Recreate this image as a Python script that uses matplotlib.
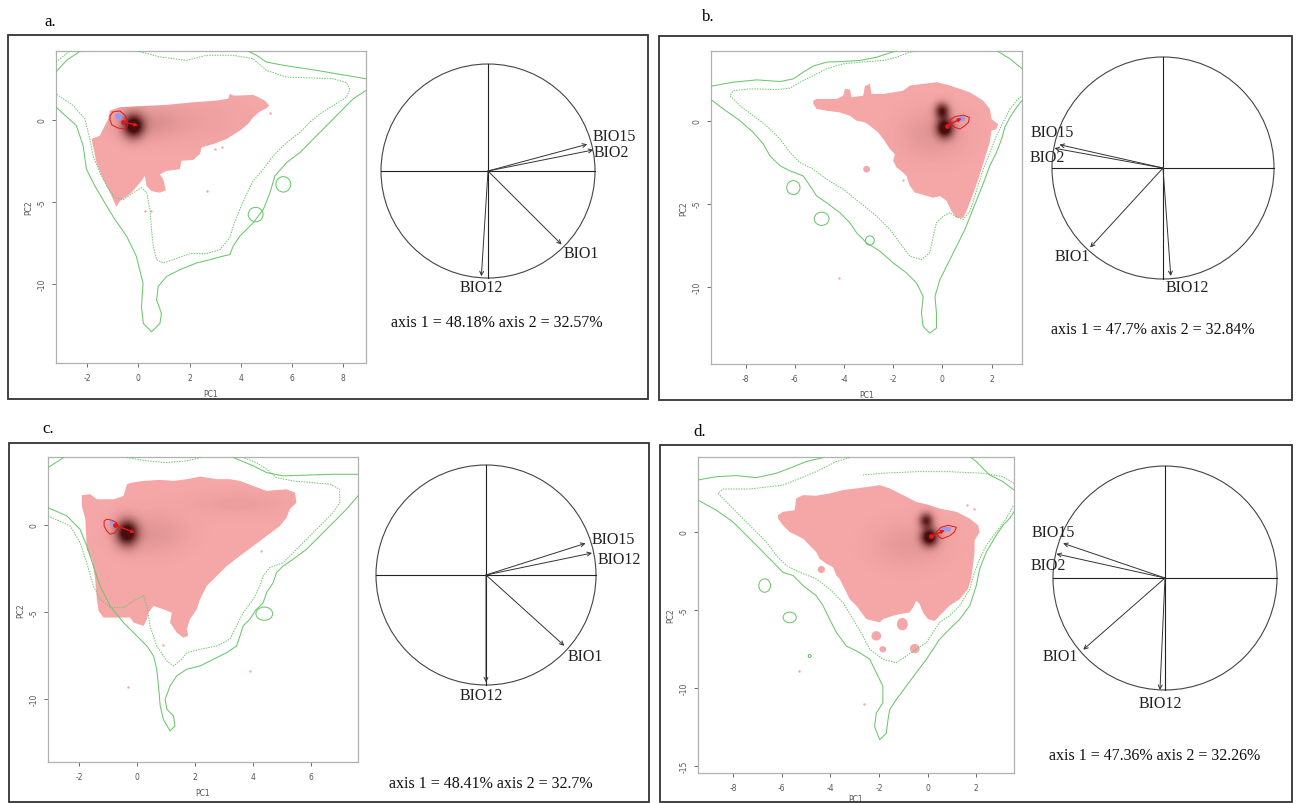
import numpy as np
import matplotlib.pyplot as plt
from matplotlib.patches import Polygon, Ellipse, Rectangle, Circle

plt.rcParams['axes.unicode_minus'] = False

W, H = 1296, 804
PINK = '#f5a6a6'
GREEN = '#6cc66c'
DARK = (0.22, 0.0, 0.0)

# ---------------- panel a ----------------
a_xlim = (-3.22, 8.89)
a_ylim = (-14.8, 4.2)
a_xticks = [-2, 0, 2, 4, 6, 8]
a_yticks = [0, -5, -10]
a_niche = [(-1.83, -1.16), (-1.64, -2.59), (-1.38, -3.61), (-1.11, -4.43), (-0.86, -5.29),
           (-0.72, -4.94), (-0.27, -4.43), (0.12, -3.71), (0.25, -3.41), (0.32, -4.02),
           (0.51, -4.33), (0.84, -4.43), (1.07, -4.27), (0.97, -3.61), (0.84, -3.31),
           (1.10, -3.10), (1.62, -3.0), (1.68, -2.49), (2.14, -2.43), (2.40, -2.08),
           (2.47, -1.67), (2.92, -1.47), (3.44, -1.16), (3.96, -0.65), (4.29, -0.24),
           (4.48, 0.16), (4.74, 0.51), (5.0, 0.71), (5.11, 0.88), (4.94, 1.18),
           (4.68, 1.39), (4.48, 1.53), (3.96, 1.49), (3.70, 1.49), (3.57, 1.59),
           (3.51, 1.29), (3.05, 1.18), (2.14, 1.08), (1.10, 0.92), (0.05, 0.84),
           (-0.72, 0.78), (-1.11, 0.57), (-1.18, 0.06), (-1.51, -0.96)]
a_specks = [(2.99, -1.78), (3.25, -1.67), (2.66, -4.33), (0.25, -5.55), (0.51, -5.55), (5.14, 0.41)]
a_cores = [(-0.2, -0.35, 0.28, 0.5, 1.1), (0.4, -0.2, 0.8, 0.6, 0.12), (2.0, 0.0, 1.5, 1.0, 0.04)]
a_solid = [
    [(-3.22, 0.78), (-2.42, -0.35), (-2.16, -1.57), (-2.03, -3.0), (-1.70, -4.02), (-1.24, -5.24),
     (-0.92, -6.06), (-0.46, -7.08), (-0.08, -8.31), (0.18, -9.94), (0.12, -11.37), (0.19, -12.39),
     (0.51, -12.90), (0.84, -12.39), (0.90, -11.78), (0.71, -10.96), (0.77, -10.14), (1.10, -9.53),
     (1.62, -9.12), (2.27, -8.71), (2.79, -8.51), (3.25, -8.31), (3.57, -8.20), (3.70, -7.69),
     (3.96, -7.08), (4.48, -6.27), (4.88, -5.45), (5.14, -4.43), (5.33, -3.41), (5.79, -2.59),
     (6.31, -1.98), (6.83, -1.16), (7.35, -0.35), (7.87, 0.47), (8.39, 1.29), (8.89, 1.80)],
    [(4.22, 4.24), (4.61, 3.94), (5.0, 3.53), (5.66, 3.33), (6.96, 3.02), (8.13, 2.71), (8.89, 2.51)],
    [(-3.22, 2.92), (-2.81, 3.63), (-2.22, 4.24)],
]
a_dotted = [
    [(-0.14, 4.24), (0.84, 3.84), (1.88, 3.63), (2.66, 3.94), (3.70, 3.94), (4.48, 3.73), (5.0, 3.02),
     (5.79, 2.61), (7.61, 2.51), (8.13, 2.27), (8.26, 1.86), (8.13, 1.39), (7.61, 0.88), (7.09, 0.37),
     (6.70, -0.14), (6.31, -0.76), (5.79, -1.37), (5.27, -2.18), (4.88, -3.0), (4.48, -3.71),
     (4.22, -4.53), (3.96, -5.45), (3.70, -6.47), (3.57, -7.18), (3.18, -7.90), (2.66, -8.14),
     (2.01, -8.14), (1.36, -8.51), (0.97, -8.71), (0.71, -8.51), (0.58, -7.69), (0.51, -6.67),
     (0.45, -5.45), (0.32, -4.43), (0.12, -4.12), (-0.20, -4.43), (-0.59, -4.84), (-0.92, -4.73),
     (-1.24, -4.02), (-1.51, -3.20), (-1.77, -2.18), (-1.90, -1.16), (-2.09, 0.06), (-2.55, 0.88),
     (-3.22, 1.59)],
    [(-3.22, 3.53), (-2.68, 4.2)],
]
a_rings = [(5.66, -3.92, 0.29, 0.47), (4.58, -5.76, 0.29, 0.44)]
a_native = [(-1.11, 0.24), (-1.0, 0.49), (-0.72, 0.55), (-0.53, 0.30), (-0.45, 0.0), (-0.41, -0.30),
            (-0.53, -0.55), (-0.80, -0.49), (-1.04, -0.30), (-1.11, 0.0)]
a_core_fill = [(-0.92, 0.37), (-0.72, 0.43), (-0.61, 0.24), (-0.69, 0.0), (-0.88, 0.06)]
a_shift = [(-0.59, -0.10), (-0.01, -0.35)]
a_vars = ['BIO15', 'BIO2', 'BIO1', 'BIO12']
a_vx = [0.928, 0.984, 0.688, -0.062]
a_vy = [0.25, 0.197, -0.687, -0.984]
a_inertia = (48.18, 32.57)

# ---------------- panel b ----------------
b_xlim = (-9.41, 3.24)
b_ylim = (-14.66, 4.2)
b_xticks = [-8, -6, -4, -2, 0, 2]
b_yticks = [0, -5, -10]
b_niche = [(-5.25, 1.21), (-5.11, 1.31), (-4.30, 1.31), (-4.03, 1.51), (-3.96, 1.92), (-3.76, 1.88),
           (-3.69, 1.41), (-3.22, 1.51), (-3.15, 2.08), (-2.95, 2.22), (-2.88, 1.61), (-2.40, 1.61),
           (-1.59, 1.81), (-1.32, 2.12), (-0.77, 2.22), (-0.23, 2.32), (0.31, 2.12), (1.12, 1.71),
           (1.66, 1.21), (1.93, 0.71), (2.0, 0.10), (2.27, -0.20), (2.20, -0.50), (2.0, -0.60),
           (1.93, -1.31), (1.80, -1.92), (1.59, -2.92), (1.46, -3.53), (1.32, -4.13), (1.12, -4.94),
           (0.98, -5.44), (0.85, -5.85), (0.58, -5.85), (0.37, -5.44), (0.18, -4.84), (-0.10, -4.54),
           (-0.37, -4.64), (-0.85, -4.44), (-1.12, -4.33), (-1.32, -3.93), (-1.46, -3.33),
           (-1.59, -3.13), (-1.86, -2.82), (-2.0, -2.42), (-1.93, -2.02), (-2.13, -1.71),
           (-2.40, -1.11), (-2.61, -0.71), (-2.95, -0.30), (-3.15, -0.10), (-3.49, 0.0),
           (-3.76, 0.30), (-4.17, 0.50), (-4.71, 0.60), (-5.11, 0.71), (-5.25, 1.01)]
b_blobs = [(-3.08, -2.92, 0.28, 0.40)]
b_specks = [(-1.6, -3.6), (-4.2, -9.5), (-2.0, 1.0)]
b_cores = [(0.11, -0.44, 0.24, 0.4, 1.1), (0.0, 0.6, 0.2, 0.34, 0.85), (-0.4, -0.8, 0.9, 1.0, 0.10)]
b_solid = [
    [(-9.41, 2.08), (-8.50, 2.32), (-7.55, 2.46), (-6.60, 2.36), (-6.06, 2.52), (-5.66, 2.92),
     (-5.25, 3.29), (-4.71, 3.53), (-4.03, 3.57), (-3.35, 3.63), (-2.67, 3.83), (-2.13, 4.09),
     (-1.79, 4.23)],
    [(-9.41, 1.27), (-8.91, 0.71), (-8.23, 0.0), (-7.69, -0.71), (-7.28, -1.41), (-7.01, -2.12),
     (-6.60, -2.72), (-6.20, -3.02), (-5.66, -3.33), (-5.38, -3.93), (-5.11, -4.54), (-4.71, -4.94),
     (-4.17, -5.54), (-3.76, -6.15), (-3.49, -6.75), (-3.08, -7.36), (-2.54, -7.86), (-2.0, -8.57),
     (-1.46, -9.17), (-1.05, -9.78), (-0.78, -10.58), (-0.85, -11.59), (-0.78, -12.40),
     (-0.51, -12.80), (-0.24, -12.50), (-0.24, -11.59), (-0.30, -10.58), (-0.10, -9.58),
     (0.24, -8.57), (0.58, -7.56), (0.92, -6.55), (1.19, -5.54), (1.46, -4.54), (1.73, -3.53),
     (1.93, -2.72), (2.20, -1.92), (2.41, -1.11), (2.54, -0.40), (2.75, 0.20), (3.02, 0.81),
     (3.24, 1.21)],
    [(2.20, 4.23), (2.75, 3.73), (3.24, 3.13)],
]
b_dotted = [
    [(-1.05, 4.23), (-1.32, 4.13), (-1.86, 3.83), (-2.40, 3.63), (-3.35, 3.53), (-4.03, 3.43),
     (-4.71, 3.13), (-5.38, 2.62), (-5.79, 2.32), (-6.20, 1.96), (-6.74, 1.88), (-7.82, 1.92),
     (-8.50, 1.81), (-8.64, 1.51), (-8.23, 0.91), (-7.69, 0.30), (-7.15, -0.30), (-6.60, -1.11),
     (-6.20, -1.92), (-5.79, -2.52), (-5.25, -2.92), (-4.71, -3.53), (-4.03, -4.13), (-3.35, -4.94),
     (-2.67, -5.75), (-2.13, -6.55), (-1.73, -7.36), (-1.32, -8.17), (-0.85, -8.37), (-0.51, -7.96),
     (-0.37, -6.96), (-0.24, -6.15), (0.04, -5.75), (0.31, -5.54), (0.51, -5.75), (0.85, -5.95),
     (1.12, -5.44), (1.32, -4.54), (1.53, -3.53), (1.66, -2.92), (1.93, -1.92), (2.20, -0.91),
     (2.47, -0.10), (2.75, 0.71), (3.02, 1.21), (3.24, 1.51)],
]
b_rings = [(-6.06, -4.03, 0.27, 0.42), (-4.91, -5.91, 0.30, 0.40), (-2.95, -7.22, 0.18, 0.28)]
b_native = [(0.31, 0.06), (0.51, 0.24), (0.85, 0.34), (1.10, 0.20), (1.06, -0.10), (0.92, -0.30),
            (0.71, -0.50), (0.51, -0.40), (0.37, -0.20)]
b_core_fill = [(0.58, 0.14), (0.71, 0.26), (0.92, 0.26), (0.92, 0.0), (0.64, -0.04)]
b_shift = [(0.18, -0.30), (0.78, 0.14)]
b_vars = ['BIO15', 'BIO2', 'BIO1', 'BIO12']
b_vx = [-0.933, -0.978, -0.656, 0.07]
b_vy = [0.21, 0.178, -0.716, -0.973]
b_inertia = (47.7, 32.84)

# ---------------- panel c ----------------
c_xlim = (-3.08, 7.64)
c_ylim = (-13.59, 3.87)
c_xticks = [-2, 0, 2, 4, 6]
c_yticks = [0, -5, -10]
c_niche = [(-1.91, 1.68), (-1.62, 1.74), (-1.39, 1.45), (-0.81, 1.45), (-0.47, 1.64), (-0.35, 2.31),
           (-0.18, 2.40), (0.22, 2.50), (0.80, 2.56), (1.26, 2.50), (1.72, 2.60), (2.18, 2.75),
           (2.75, 2.60), (3.21, 2.60), (3.56, 2.50), (4.02, 2.21), (4.48, 1.93), (5.17, 2.02),
           (5.46, 1.83), (5.51, 1.26), (5.28, 0.88), (5.17, 0.40), (4.94, -0.08), (4.48, -0.65),
           (4.02, -1.22), (3.56, -1.79), (3.10, -2.37), (2.64, -3.13), (2.41, -3.51), (2.18, -4.27),
           (2.06, -4.85), (1.83, -5.42), (1.72, -5.99), (1.77, -6.37), (1.60, -6.47), (1.37, -6.18),
           (1.14, -5.61), (1.20, -5.04), (0.91, -4.85), (0.57, -4.66), (0.39, -5.04), (0.34, -5.42),
           (0.22, -5.80), (-0.12, -5.61), (-0.24, -5.32), (-0.70, -5.32), (-1.16, -5.32),
           (-1.33, -4.94), (-1.39, -4.27), (-1.45, -3.13), (-1.56, -1.98), (-1.74, -1.41),
           (-1.76, -0.65), (-1.79, 0.31), (-1.91, 1.07)]
c_specks = [(4.3, -1.5), (3.9, -8.4), (-0.3, -9.3), (0.9, -6.9)]
c_cores = [(-0.35, -0.46, 0.26, 0.5, 1.1), (0.5, -0.5, 0.8, 0.8, 0.10), (3.5, 1.2, 1.2, 0.5, 0.05)]
c_solid = [
    [(-3.08, 0.97), (-2.43, 0.50), (-1.97, -0.27), (-1.74, -1.22), (-1.51, -2.37), (-1.28, -3.51),
     (-0.93, -4.66), (-0.47, -5.61), (-0.01, -6.37), (0.34, -6.95), (0.57, -7.52), (0.68, -8.28),
     (0.74, -9.24), (0.80, -10.38), (0.91, -11.15), (1.14, -11.81), (1.31, -11.53), (1.26, -10.95),
     (1.03, -10.57), (0.97, -10.0), (1.14, -9.24), (1.37, -8.66), (1.72, -8.28), (2.18, -8.09),
     (2.64, -7.71), (3.10, -7.33), (3.44, -6.95), (3.56, -6.37), (3.67, -5.80), (3.90, -5.42),
     (4.10, -4.90), (4.36, -4.47), (4.48, -3.89), (4.71, -3.32), (4.82, -2.75), (5.05, -2.37),
     (5.40, -1.98), (5.86, -1.41), (6.32, -0.65), (6.78, 0.11), (7.24, 0.88), (7.64, 1.64)],
    [(-3.08, 3.26), (-2.54, 3.84)],
    [(3.33, 3.84), (4.02, 3.36), (4.48, 2.98), (5.05, 2.79), (6.78, 2.88), (7.64, 2.88)],
]
c_dotted = [
    [(-3.08, 0.50), (-2.31, -0.08), (-1.97, -1.03), (-1.74, -2.18), (-1.51, -3.51), (-1.28, -4.27),
     (-0.93, -4.75), (-0.47, -4.75), (-0.12, -4.37), (0.22, -4.08), (0.34, -4.66), (0.45, -5.80),
     (0.68, -6.95), (1.03, -7.81), (1.26, -8.09), (1.54, -7.71), (1.72, -7.33), (2.18, -7.14),
     (2.75, -6.95), (3.21, -6.56), (3.44, -5.80), (3.67, -5.04), (4.02, -4.27), (4.25, -3.51),
     (4.36, -2.94), (4.59, -2.46), (5.05, -2.18), (5.40, -1.60), (5.86, -0.84), (6.32, -0.08),
     (6.78, 0.69), (7.01, 1.26), (7.01, 2.02), (6.67, 2.31), (6.09, 2.40), (5.40, 2.50),
     (4.82, 2.69), (4.48, 3.17), (4.13, 3.55), (3.67, 3.84)],
    [(-0.35, 3.84), (0.34, 3.65), (1.03, 3.55), (1.72, 3.65), (2.2, 3.84)],
]
c_rings = [(4.4, -5.1, 0.29, 0.38)]
c_native = [(-1.14, 0.21), (-1.05, 0.31), (-0.87, 0.25), (-0.70, 0.11), (-0.64, -0.17), (-0.76, -0.46),
            (-0.93, -0.55), (-1.05, -0.36), (-1.14, -0.08)]
c_core_fill = [(-0.93, 0.21), (-0.78, 0.19), (-0.72, 0.02), (-0.86, -0.08), (-0.95, 0.05)]
c_shift = [(-0.76, -0.04), (-0.07, -0.46)]
c_vars = ['BIO15', 'BIO12', 'BIO1', 'BIO12']
c_vx = [0.905, 0.964, 0.712, 0.0]
c_vy = [0.288, 0.2, -0.643, -0.976]
c_inertia = (48.41, 32.7)

# ---------------- panel d ----------------
d_xlim = (-9.44, 3.55)
d_ylim = (-15.43, 4.8)
d_xticks = [-8, -6, -4, -2, 0, 2]
d_yticks = [0, -5, -10, -15]
d_niche = [(-6.15, 1.07), (-5.95, 1.29), (-5.47, 1.39), (-5.40, 2.15), (-5.12, 2.36), (-4.58, 2.32),
           (-4.03, 2.47), (-3.48, 2.68), (-2.93, 2.79), (-2.38, 2.90), (-1.97, 3.0), (-1.56, 2.79),
           (-1.01, 2.36), (-0.47, 1.93), (0.08, 1.72), (0.49, 1.50), (1.18, 1.29), (1.73, 0.86),
           (2.07, 0.43), (2.14, 0.0), (1.93, -0.54), (1.93, -1.29), (1.86, -2.15), (1.79, -3.0),
           (1.66, -3.65), (1.32, -4.29), (0.90, -4.72), (0.49, -5.36), (0.29, -5.69), (0.01, -5.58),
           (-0.19, -5.15), (-0.33, -4.61), (-0.47, -4.40), (-0.60, -4.83), (-0.74, -5.15),
           (-1.15, -5.26), (-1.42, -5.36), (-1.84, -5.58), (-1.97, -5.79), (-2.52, -5.58),
           (-2.93, -4.72), (-3.21, -4.29), (-3.34, -3.86), (-3.48, -3.43), (-3.62, -3.0),
           (-3.75, -2.79), (-3.89, -2.25), (-4.16, -2.04), (-4.44, -1.72), (-4.58, -1.29),
           (-4.85, -0.86), (-5.12, -0.43), (-5.67, 0.0), (-5.95, 0.43), (-6.15, 0.86)]
d_blobs = [(-4.37, -2.40, 0.30, 0.45), (-2.11, -6.65, 0.40, 0.60), (-1.84, -7.51, 0.28, 0.40),
           (-1.04, -5.90, 0.45, 0.80), (-0.53, -7.47, 0.40, 0.60)]
d_specks = [(1.6, 1.7), (1.9, 1.5), (-5.3, -8.9), (-2.6, -11.0), (-1.5, 2.6)]
d_cores = [(0.08, -0.32, 0.24, 0.4, 1.1), (-0.05, 0.75, 0.2, 0.34, 0.8), (-0.8, -0.8, 1.0, 1.0, 0.08)]
d_solid = [
    [(-9.44, 3.33), (-8.68, 3.54), (-7.86, 3.61), (-7.04, 3.48), (-6.22, 3.76), (-5.67, 4.08),
     (-4.99, 4.51), (-4.30, 4.76)],
    [(-9.44, 2.04), (-8.68, 1.39), (-8.0, 0.64), (-7.45, -0.21), (-6.90, -1.07), (-6.49, -1.72),
     (-6.22, -2.15), (-5.95, -2.58), (-5.53, -2.79), (-5.12, -3.43), (-4.58, -4.08), (-4.30, -4.72),
     (-4.03, -5.58), (-3.75, -6.44), (-3.34, -7.30), (-2.79, -7.73), (-2.38, -8.15), (-2.11, -9.01),
     (-1.84, -9.87), (-1.84, -10.94), (-2.11, -11.59), (-2.18, -12.45), (-1.97, -13.30),
     (-1.70, -12.88), (-1.63, -12.02), (-1.56, -11.37), (-1.29, -10.73), (-0.88, -9.87),
     (-0.47, -9.01), (-0.05, -8.15), (0.22, -7.51), (0.49, -6.87), (0.90, -6.22), (1.32, -5.58),
     (1.73, -4.72), (2.0, -3.43), (2.14, -2.36), (2.41, -1.29), (2.82, -0.21), (3.10, 0.43),
     (3.37, 0.86), (3.55, 1.29)],
    [(1.73, 4.83), (2.0, 4.51), (2.27, 4.08), (2.55, 3.65), (3.10, 3.22), (3.55, 2.68)],
]
d_dotted = [
    [(-3.21, 4.76), (-3.75, 4.51), (-4.58, 3.86), (-5.26, 3.43), (-5.95, 3.0), (-7.32, 2.75),
     (-8.41, 2.75), (-8.62, 2.47), (-8.27, 1.93), (-7.73, 1.07), (-7.18, 0.21), (-6.63, -0.64),
     (-6.22, -1.50), (-5.81, -2.15), (-5.26, -2.58), (-4.58, -3.0), (-4.03, -3.65), (-3.48, -4.51),
     (-3.07, -5.58), (-2.66, -6.65), (-2.38, -7.51), (-1.84, -8.15), (-1.29, -8.37), (-0.88, -7.94),
     (-0.47, -7.51), (-0.05, -7.08), (0.22, -6.44), (0.49, -5.79), (0.90, -5.36), (1.32, -4.72),
     (1.73, -3.65), (1.93, -2.58), (2.14, -1.72), (2.41, -0.86), (2.82, 0.0), (3.23, 0.86),
     (3.55, 1.72)],
    [(3.55, 3.11), (3.10, 3.54), (2.27, 3.76), (0.90, 3.86), (-0.47, 3.86), (-1.84, 3.76),
     (-2.66, 3.65)],
]
d_rings = [(-6.70, -3.43, 0.24, 0.43), (-5.67, -5.47, 0.27, 0.34), (-4.85, -7.94, 0.06, 0.10)]
d_native = [(0.36, 0.0), (0.55, 0.30), (0.85, 0.43), (1.18, 0.30), (1.10, 0.0), (0.90, -0.25),
            (0.60, -0.43), (0.45, -0.30)]
d_core_fill = [(0.49, 0.15), (0.65, 0.32), (0.97, 0.30), (0.95, 0.05), (0.60, 0.0)]
d_shift = [(0.15, -0.26), (0.70, 0.11)]
d_vars = ['BIO15', 'BIO2', 'BIO1', 'BIO12']
d_vx = [-0.91, -0.97, -0.73, -0.045]
d_vy = [0.31, 0.215, -0.64, -1.0]
d_inertia = (47.36, 32.26)

fig = plt.figure(figsize=(W / 100, H / 100), dpi=100)


def px_axes(x0, y0, x1, y1):
    return fig.add_axes([x0 / W, 1 - y1 / H, (x1 - x0) / W, (y1 - y0) / H])


def draw_density(box, xlim, ylim, xticks, yticks, niche, specks, cores, solid, dotted, rings,
                 native, core_fill, shift, blobs=()):
    ax = px_axes(*box)
    ax.set_xlim(xlim)
    ax.set_ylim(ylim)
    patch = Polygon(niche, closed=True, fc=PINK, ec='none', zorder=1)
    ax.add_patch(patch)
    for bx, by, bw, bh in blobs:
        ax.add_patch(Ellipse((bx, by), bw, bh, fc=PINK, ec='none', zorder=1))
    sx_, sy_ = zip(*specks)
    ax.scatter(sx_, sy_, s=3, c=PINK, lw=0, zorder=1)

    # darker shading where occurrences concentrate
    gx = np.linspace(*xlim, 400)
    gy = np.linspace(*ylim, 400)
    X, Y = np.meshgrid(gx, gy)
    dens = np.zeros_like(X)
    for cx, cy, sx, sy, amp in cores:
        dens += amp * np.exp(-((X - cx) ** 2 / (2 * sx ** 2) + (Y - cy) ** 2 / (2 * sy ** 2)))
    rgba = np.zeros(X.shape + (4,))
    rgba[..., :3] = DARK
    rgba[..., 3] = np.clip(dens, 0, 0.92)
    im = ax.imshow(rgba, extent=(*xlim, *ylim), origin='lower', aspect='auto', zorder=2,
                   interpolation='bilinear')
    im.set_clip_path(patch)

    for line in solid:
        lx, ly = zip(*line)
        ax.plot(lx, ly, color=GREEN, lw=0.75, zorder=3, solid_joinstyle='round')
    for line in dotted:
        lx, ly = zip(*line)
        ax.plot(lx, ly, color=GREEN, lw=0.7, ls=(0, (1.5, 1.2)), zorder=3)
    for ex, ey, ew, eh in rings:
        ax.add_patch(Ellipse((ex, ey), 2 * ew, 2 * eh, fc='none', ec=GREEN, lw=0.75, zorder=3))

    ax.add_patch(Polygon(core_fill, closed=True, fc='#9a9ae6', ec='none', zorder=4))
    ax.add_patch(Polygon(native, closed=True, fc='none', ec='#e01818', lw=0.7, zorder=5))
    (x0, y0), (x1, y1) = shift
    ax.annotate('', xy=(x1, y1), xytext=(x0, y0),
                arrowprops=dict(arrowstyle='-|>', color='#e01818', lw=1.0, mutation_scale=5,
                                shrinkA=0, shrinkB=0), zorder=6)
    ax.scatter([x0], [y0], s=6, c='#e01818', zorder=6)

    ax.set_xticks(xticks)
    ax.set_yticks(yticks)
    ax.tick_params(labelsize=5.5, colors='#555555', length=3, width=0.6, pad=4)
    for lab in ax.get_yticklabels():
        lab.set_rotation(90)
        lab.set_va('center')
    for sp in ax.spines.values():
        sp.set_color('#b0b0b0')
        sp.set_linewidth(0.9)
    ax.set_xlabel('PC1', fontsize=5.5, color='#555555', labelpad=5)
    ax.set_ylabel('PC2', fontsize=5.5, color='#555555', labelpad=3)
    return ax


def draw_circle(cx, cy, r, names, vx, vy, lab_xy, inertia, text_xy):
    ax = px_axes(cx - r, cy - r, cx + r, cy + r)
    ax.set_xlim(-1, 1)
    ax.set_ylim(-1, 1)
    ax.axis('off')
    ax.add_patch(Circle((0, 0), 1, fc='none', ec='#444444', lw=0.8, clip_on=False))
    ax.plot([-1, 1], [0, 0], color='#222222', lw=0.8, clip_on=False)
    ax.plot([0, 0], [-1, 1], color='#222222', lw=0.8, clip_on=False)
    for name, x, y, (lx, ly, ha) in zip(names, vx, vy, lab_xy):
        ax.annotate('', xy=(x, y), xytext=(0, 0),
                    arrowprops=dict(arrowstyle='->', color='#333333', lw=0.7,
                                    mutation_scale=7, shrinkA=0, shrinkB=0),
                    annotation_clip=False)
        ax.text(lx, ly, name, ha=ha, va='center', fontsize=11.5, family='Liberation Serif',
                color='#222222', clip_on=False)
    ax.text(text_xy[0], text_xy[1], 'axis 1 = %s%% axis 2 = %s%%' % inertia, ha='center',
            va='center', fontsize=11.5, family='Liberation Serif', color='#111111', clip_on=False)


# outer frames and panel letters
for (x0, y0, x1, y1) in [(8, 36, 648, 400), (659, 37, 1292, 401), (9, 444, 649, 803),
                         (660, 446, 1292, 803)]:
    fig.add_artist(Rectangle((x0 / W, 1 - y1 / H), (x1 - x0) / W, (y1 - y0) / H,
                             transform=fig.transFigure, fc='none', ec='#333333', lw=1.3))
for letter, x, y in [('a.', 50, 22), ('b.', 708, 17), ('c.', 48, 429), ('d.', 700, 432)]:
    fig.text(x / W, 1 - y / H, letter, ha='center', va='center', fontsize=12,
             family='Liberation Serif')

draw_density((56, 52, 366, 364), a_xlim, a_ylim, a_xticks, a_yticks, a_niche, a_specks, a_cores,
             a_solid, a_dotted, a_rings, a_native, a_core_fill, a_shift)
draw_density((711, 52, 1022, 365), b_xlim, b_ylim, b_xticks, b_yticks, b_niche, b_specks, b_cores,
             b_solid, b_dotted, b_rings, b_native, b_core_fill, b_shift, blobs=b_blobs)
draw_density((48, 458, 358, 763), c_xlim, c_ylim, c_xticks, c_yticks, c_niche, c_specks, c_cores,
             c_solid, c_dotted, c_rings, c_native, c_core_fill, c_shift)
ax_d = draw_density((698, 458, 1014, 774), d_xlim, d_ylim, d_xticks, d_yticks, d_niche, d_specks,
                    d_cores, d_solid, d_dotted, d_rings, d_native, d_core_fill, d_shift,
                    blobs=d_blobs)
ax_d.xaxis.labelpad = 2

draw_circle(488, 172, 107, a_vars, a_vx, a_vy,
            [(0.98, 0.325, 'left'), (0.99, 0.175, 'left'), (0.71, -0.77, 'left'),
             (-0.06, -1.08, 'center')], a_inertia, (0.08, -1.41))
draw_circle(1163, 169, 111, b_vars, b_vx, b_vy,
            [(-1.19, 0.32, 'left'), (-1.20, 0.10, 'left'), (-0.98, -0.79, 'left'),
             (0.02, -1.07, 'left')], b_inertia, (-0.09, -1.45))
draw_circle(486, 576, 110, c_vars, c_vx, c_vy,
            [(0.96, 0.33, 'left'), (1.01, 0.145, 'left'), (0.74, -0.74, 'left'),
             (-0.04, -1.09, 'center')], c_inertia, (0.04, -1.89))
draw_circle(1165, 579, 112, d_vars, d_vx, d_vy,
            [(-1.19, 0.41, 'left'), (-1.20, 0.12, 'left'), (-1.09, -0.70, 'left'),
             (-0.24, -1.12, 'left')], d_inertia, (-0.09, -1.58))

fig.savefig('out.png', dpi=100, facecolor='white')
